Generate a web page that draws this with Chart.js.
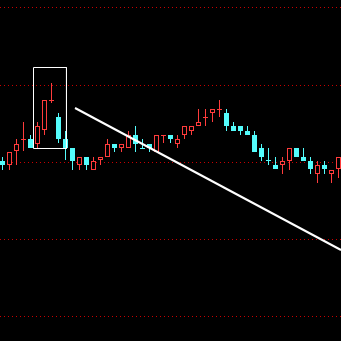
<!DOCTYPE html>
<html>
<head>
<meta charset="utf-8">
<script src="https://cdn.jsdelivr.net/npm/chart.js@4.4.0/dist/chart.umd.min.js"></script>
<style>
    html, body { margin: 0; padding: 0; background: #000; }
    #wrap { width: 341px; height: 341px; }
</style>
</head>
<body>
<div id="wrap"><canvas id="kline-chart"></canvas></div>
<script>
// ===== DATA =====
const opens  = [12.01, 11.97, 12.11, 12.22, 12.23, 12.18, 12.32, 12.61, 12.45, 12.23, 12.14, 11.97, 12.05, 11.92, 12.02, 12.05, 12.18, 12.14, 12.14, 12.27, 12.14, 12.18, 12.10, 12.26, 12.27, 12.18, 12.27, 12.31, 12.36, 12.44, 12.49, 12.52, 12.49, 12.36, 12.36, 12.31, 12.27, 12.14, 12.02, 11.97, 11.97, 12.01, 12.14, 12.05, 12.01, 11.88, 11.97, 11.88, 11.93];
const highs  = [12.05, 12.10, 12.23, 12.40, 12.27, 12.40, 12.62, 12.79, 12.49, 12.31, 12.14, 12.05, 12.05, 12.05, 12.05, 12.23, 12.18, 12.18, 12.31, 12.36, 12.23, 12.18, 12.27, 12.27, 12.27, 12.27, 12.36, 12.36, 12.53, 12.53, 12.53, 12.62, 12.53, 12.40, 12.36, 12.36, 12.31, 12.18, 12.14, 12.05, 12.05, 12.14, 12.14, 12.14, 12.05, 12.01, 12.01, 11.92, 12.05];
const lows   = [11.92, 11.92, 11.97, 12.11, 12.14, 12.14, 12.27, 12.59, 12.19, 12.02, 11.92, 11.92, 11.92, 11.92, 11.97, 12.05, 12.10, 12.10, 12.14, 12.10, 12.13, 12.10, 12.10, 12.19, 12.19, 12.14, 12.23, 12.27, 12.36, 12.36, 12.40, 12.45, 12.31, 12.31, 12.27, 12.27, 12.10, 12.01, 11.97, 11.93, 11.88, 11.92, 12.05, 12.01, 11.88, 11.79, 11.88, 11.79, 11.84];
const closes = [11.97, 12.10, 12.18, 12.23, 12.14, 12.36, 12.62, 12.62, 12.23, 12.14, 12.01, 12.05, 11.97, 12.01, 12.05, 12.18, 12.14, 12.18, 12.27, 12.18, 12.13, 12.14, 12.27, 12.27, 12.23, 12.23, 12.36, 12.36, 12.40, 12.45, 12.53, 12.53, 12.36, 12.31, 12.31, 12.27, 12.10, 12.05, 12.01, 11.93, 12.01, 12.14, 12.05, 12.01, 11.93, 11.97, 11.93, 11.92, 12.05];

// price grid (dotted lines)
const gridTicks = [13.54, 12.77, 12.00, 11.23, 10.46];

// drawn trend line and selection box, in bar-index / price units
const trendX = [10.36, 48.36];
const trendY = [12.54, 11.12];
const boxX = [4.43, 9.14, 9.14, 4.43, 4.43];
const boxY = [12.945, 12.945, 12.135, 12.135, 12.945];

const UP_COLOR = '#ff3c3c';
const DOWN_COLOR = '#54fcfc';

function isUp(i) { return closes[i] >= opens[i]; }

const bodyData = opens.map((o, i) => ({ x: i, y: [Math.min(o, closes[i]), Math.max(o, closes[i])] }));
const wickData = opens.map((o, i) => ({ x: i, y: [lows[i], highs[i]] }));
const candleColors = opens.map((o, i) => isUp(i) ? UP_COLOR : DOWN_COLOR);
const bodyFill = opens.map((o, i) => isUp(i) ? '#000000' : DOWN_COLOR);

const ctx = document.getElementById('kline-chart');

new Chart(ctx, {
    type: 'bar',
    data: {
        datasets: [
            {
                type: 'line',
                data: trendX.map((x, i) => ({ x: x, y: trendY[i] })),
                borderColor: '#ffffff',
                borderWidth: 2,
                pointRadius: 0,
                tension: 0,
                order: 0
            },
            {
                type: 'line',
                data: boxX.map((x, i) => ({ x: x, y: boxY[i] })),
                borderColor: '#ffffff',
                borderWidth: 1,
                pointRadius: 0,
                tension: 0,
                order: 0
            },
            {
                data: bodyData,
                backgroundColor: bodyFill,
                borderColor: candleColors,
                borderWidth: 1,
                borderSkipped: false,
                barThickness: 5,
                grouped: false,
                inflateAmount: 0,
                order: 1
            },
            {
                data: wickData,
                backgroundColor: candleColors,
                borderWidth: 0,
                barThickness: 1,
                grouped: false,
                inflateAmount: 0,
                order: 2
            }
        ]
    },
    options: {
        responsive: true,
        maintainAspectRatio: false,
        animation: false,
        layout: { padding: 0 },
        plugins: { legend: { display: false }, tooltip: { enabled: false } },
        scales: {
            x: {
                type: 'linear',
                display: false,
                offset: false,
                min: -2.5 / 7,
                max: 338.5 / 7
            },
            y: {
                min: 10.21,
                max: 13.62,
                afterBuildTicks: (scale) => { scale.ticks = gridTicks.map(v => ({ value: v })); },
                ticks: { display: false },
                grid: { color: '#c80000', lineWidth: 1, drawTicks: false },
                border: { display: false, dash: [1, 3] }
            }
        }
    }
});
</script>
</body>
</html>
